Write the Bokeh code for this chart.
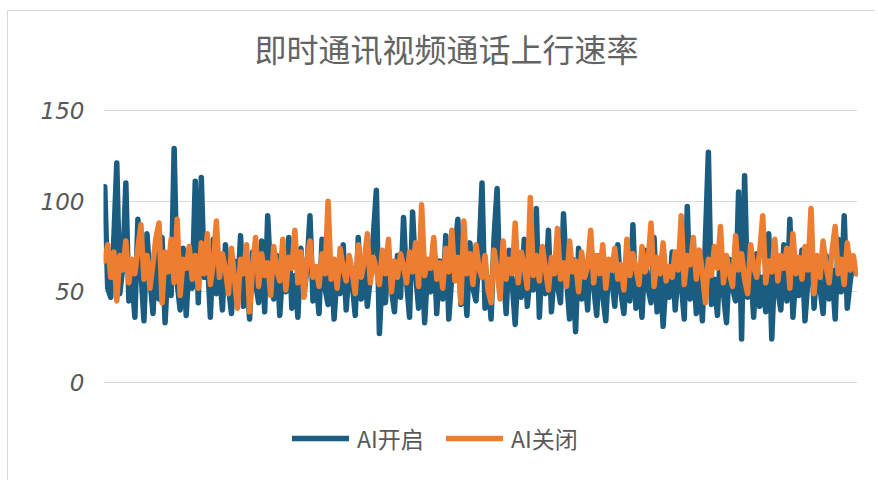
from bokeh.plotting import figure
from bokeh.models import Range1d, FixedTicker, Legend, LegendItem, Label
from bokeh.embed import file_html
from bokeh.resources import INLINE

title_text = "即时通讯视频通话上行速率"
series_names = ["AI开启", "AI关闭"]
y_ticks = [0, 50, 100, 150]

ai_on = [
    108, 52, 47, 78, 121, 49, 64, 110, 45, 58,
    36, 90, 62, 34, 82, 57, 38, 72, 46, 80,
    33, 66, 48, 129, 55, 40, 74, 37, 68, 52,
    111, 44, 113, 58, 70, 36, 79, 49, 62, 40,
    76, 53, 38, 67, 47, 81, 42, 60, 35, 72,
    55, 44, 78, 39, 92, 58, 46, 70, 37, 64,
    50, 80, 41, 59, 36, 74, 48, 63, 92, 45,
    57, 38, 79, 52, 43, 68, 35, 61, 49, 76,
    40, 65, 55, 37, 80, 46, 69, 42, 58, 81,
    106, 27, 62, 44, 73, 51, 39, 70, 47, 91,
    56, 36, 94, 60, 41, 75, 33, 64, 50, 78,
    38, 67, 46, 81, 35, 59, 72, 90, 43, 62,
    37, 77, 52, 45, 69, 110, 41, 58, 35, 80,
    107, 48, 64, 38, 73, 55, 32, 66, 47, 79,
    42, 60, 51, 96, 36, 71, 49, 84, 39, 63,
    54, 44, 93, 58, 35, 68, 28, 74, 46, 61,
    40, 79, 53, 37, 70, 48, 34, 65, 57, 42,
    76, 50, 38, 62, 45, 87, 41, 59, 36, 73,
    52, 44, 80, 39, 66, 31, 58, 47, 72, 40,
    62, 55, 35, 97, 46, 69, 38, 61, 34, 78,
    127, 43, 57, 37, 74, 49, 33, 68, 52, 45,
    105, 24, 114, 47, 63, 36, 71, 42, 58, 39,
    82, 24, 66, 51, 40, 76, 45, 90, 36, 60,
    48, 73, 34, 57, 84, 41, 65, 52, 38, 70,
    46, 62, 35, 79, 50, 92, 41, 56, 67, 60,
]

ai_off = [
    67, 76, 58, 72, 45, 70, 62, 78, 55, 68,
    60, 74, 87, 57, 70, 52, 66, 80, 88, 44,
    72, 61, 79, 55, 90, 48, 68, 63, 75, 57,
    70, 52, 77, 60, 82, 54, 66, 89, 58, 71,
    62, 49, 74, 57, 41, 68, 60, 76, 39, 64,
    80, 53, 71, 59, 66, 48, 75, 62, 56, 79,
    51, 69, 63, 84, 55, 72, 47, 67, 78, 58,
    64, 53, 71, 60, 100, 57, 68, 52, 74, 63,
    56, 70, 61, 49, 76, 58, 67, 82, 55, 69,
    62, 54, 73, 60, 79, 50, 67, 58, 71, 64,
    55, 72, 61, 77, 53, 98, 59, 68, 63, 80,
    57, 66, 52, 74, 61, 84, 56, 69, 44, 89,
    60, 71, 54, 76, 63, 58, 70, 51, 44, 73,
    62, 46, 78, 57, 68, 60, 88, 55, 72, 64,
    52, 102, 59, 70, 56, 75, 63, 51, 69, 60,
    85, 57, 66, 53, 78, 61, 67, 50, 72, 58,
    64, 84, 55, 70, 60, 76, 52, 68, 62, 74,
    57, 65, 51, 79, 59, 71, 63, 54, 75, 61,
    66, 88, 53, 69, 60, 77, 56, 64, 58, 72,
    62, 92, 54, 70, 65, 80, 57, 73, 61, 44,
    68, 59, 75, 63, 86, 55, 70, 60, 53, 81,
    62, 71, 57, 49, 76, 64, 58, 72, 92, 55,
    67, 61, 79, 56, 70, 63, 74, 52, 82, 60,
    69, 57, 75, 62, 96, 49, 70, 58, 78, 64,
    55, 73, 86, 60, 68, 54, 77, 62, 70, 60,
]

x = list(range(1, len(ai_on) + 1))

p = figure(
    width=868, height=470, title=None,
    output_backend="svg", toolbar_location=None,
    x_range=Range1d(0.6, len(x) + 0.4),
    y_range=Range1d(-51.84, 204.6),
    min_border_left=95, min_border_right=19,
    min_border_top=0, min_border_bottom=5,
)
p.styles = {"margin-left": "7px", "margin-top": "10px",
            "border-left": "1px solid #d9d9d9", "border-top": "1px solid #d9d9d9"}
p.outline_line_color = None
p.background_fill_color = "white"
p.border_fill_color = "white"

# chart title (drawn inside the frame, above the 150 gridline)
p.add_layout(Label(
    x=114.2, y=184.2, text=title_text,
    text_align="center", text_baseline="middle",
    text_font="Noto Sans CJK SC", text_font_size="32px",
    text_color="#636363",
))

r_on = p.line(x, ai_on, line_color="#1b5d80", line_width=5.5, line_join="round", line_cap="round")
r_off = p.line(x, ai_off, line_color="#ed7d31", line_width=5.5, line_join="round", line_cap="round")

p.xaxis.visible = False
p.xgrid.visible = False
p.ygrid.ticker = FixedTicker(ticks=y_ticks)
p.ygrid.grid_line_color = "#d9d9d9"
p.ygrid.grid_line_width = 1

yax = p.yaxis[0]
yax.ticker = FixedTicker(ticks=y_ticks)
yax.axis_line_color = None
yax.major_tick_line_color = None
yax.minor_tick_line_color = None
yax.major_label_text_font = "DejaVu Sans"
yax.major_label_text_font_style = "italic"
yax.major_label_text_font_size = "23px"
yax.major_label_text_color = "#595959"
yax.major_label_standoff = 13

legend = Legend(
    items=[LegendItem(label=series_names[0], renderers=[r_on]),
           LegendItem(label=series_names[1], renderers=[r_off])],
    orientation="horizontal",
    location=(189, 21),
    margin=0,
    glyph_width=57, glyph_height=24,
    label_standoff=8, label_width=77, spacing=12, padding=3,
    label_text_font="Noto Sans CJK SC",
    label_text_font_size="23px",
    label_text_color="#595959",
    border_line_color=None,
    background_fill_alpha=0,
)
p.add_layout(legend, "center")

open("out.html", "w").write(file_html(p, INLINE))
